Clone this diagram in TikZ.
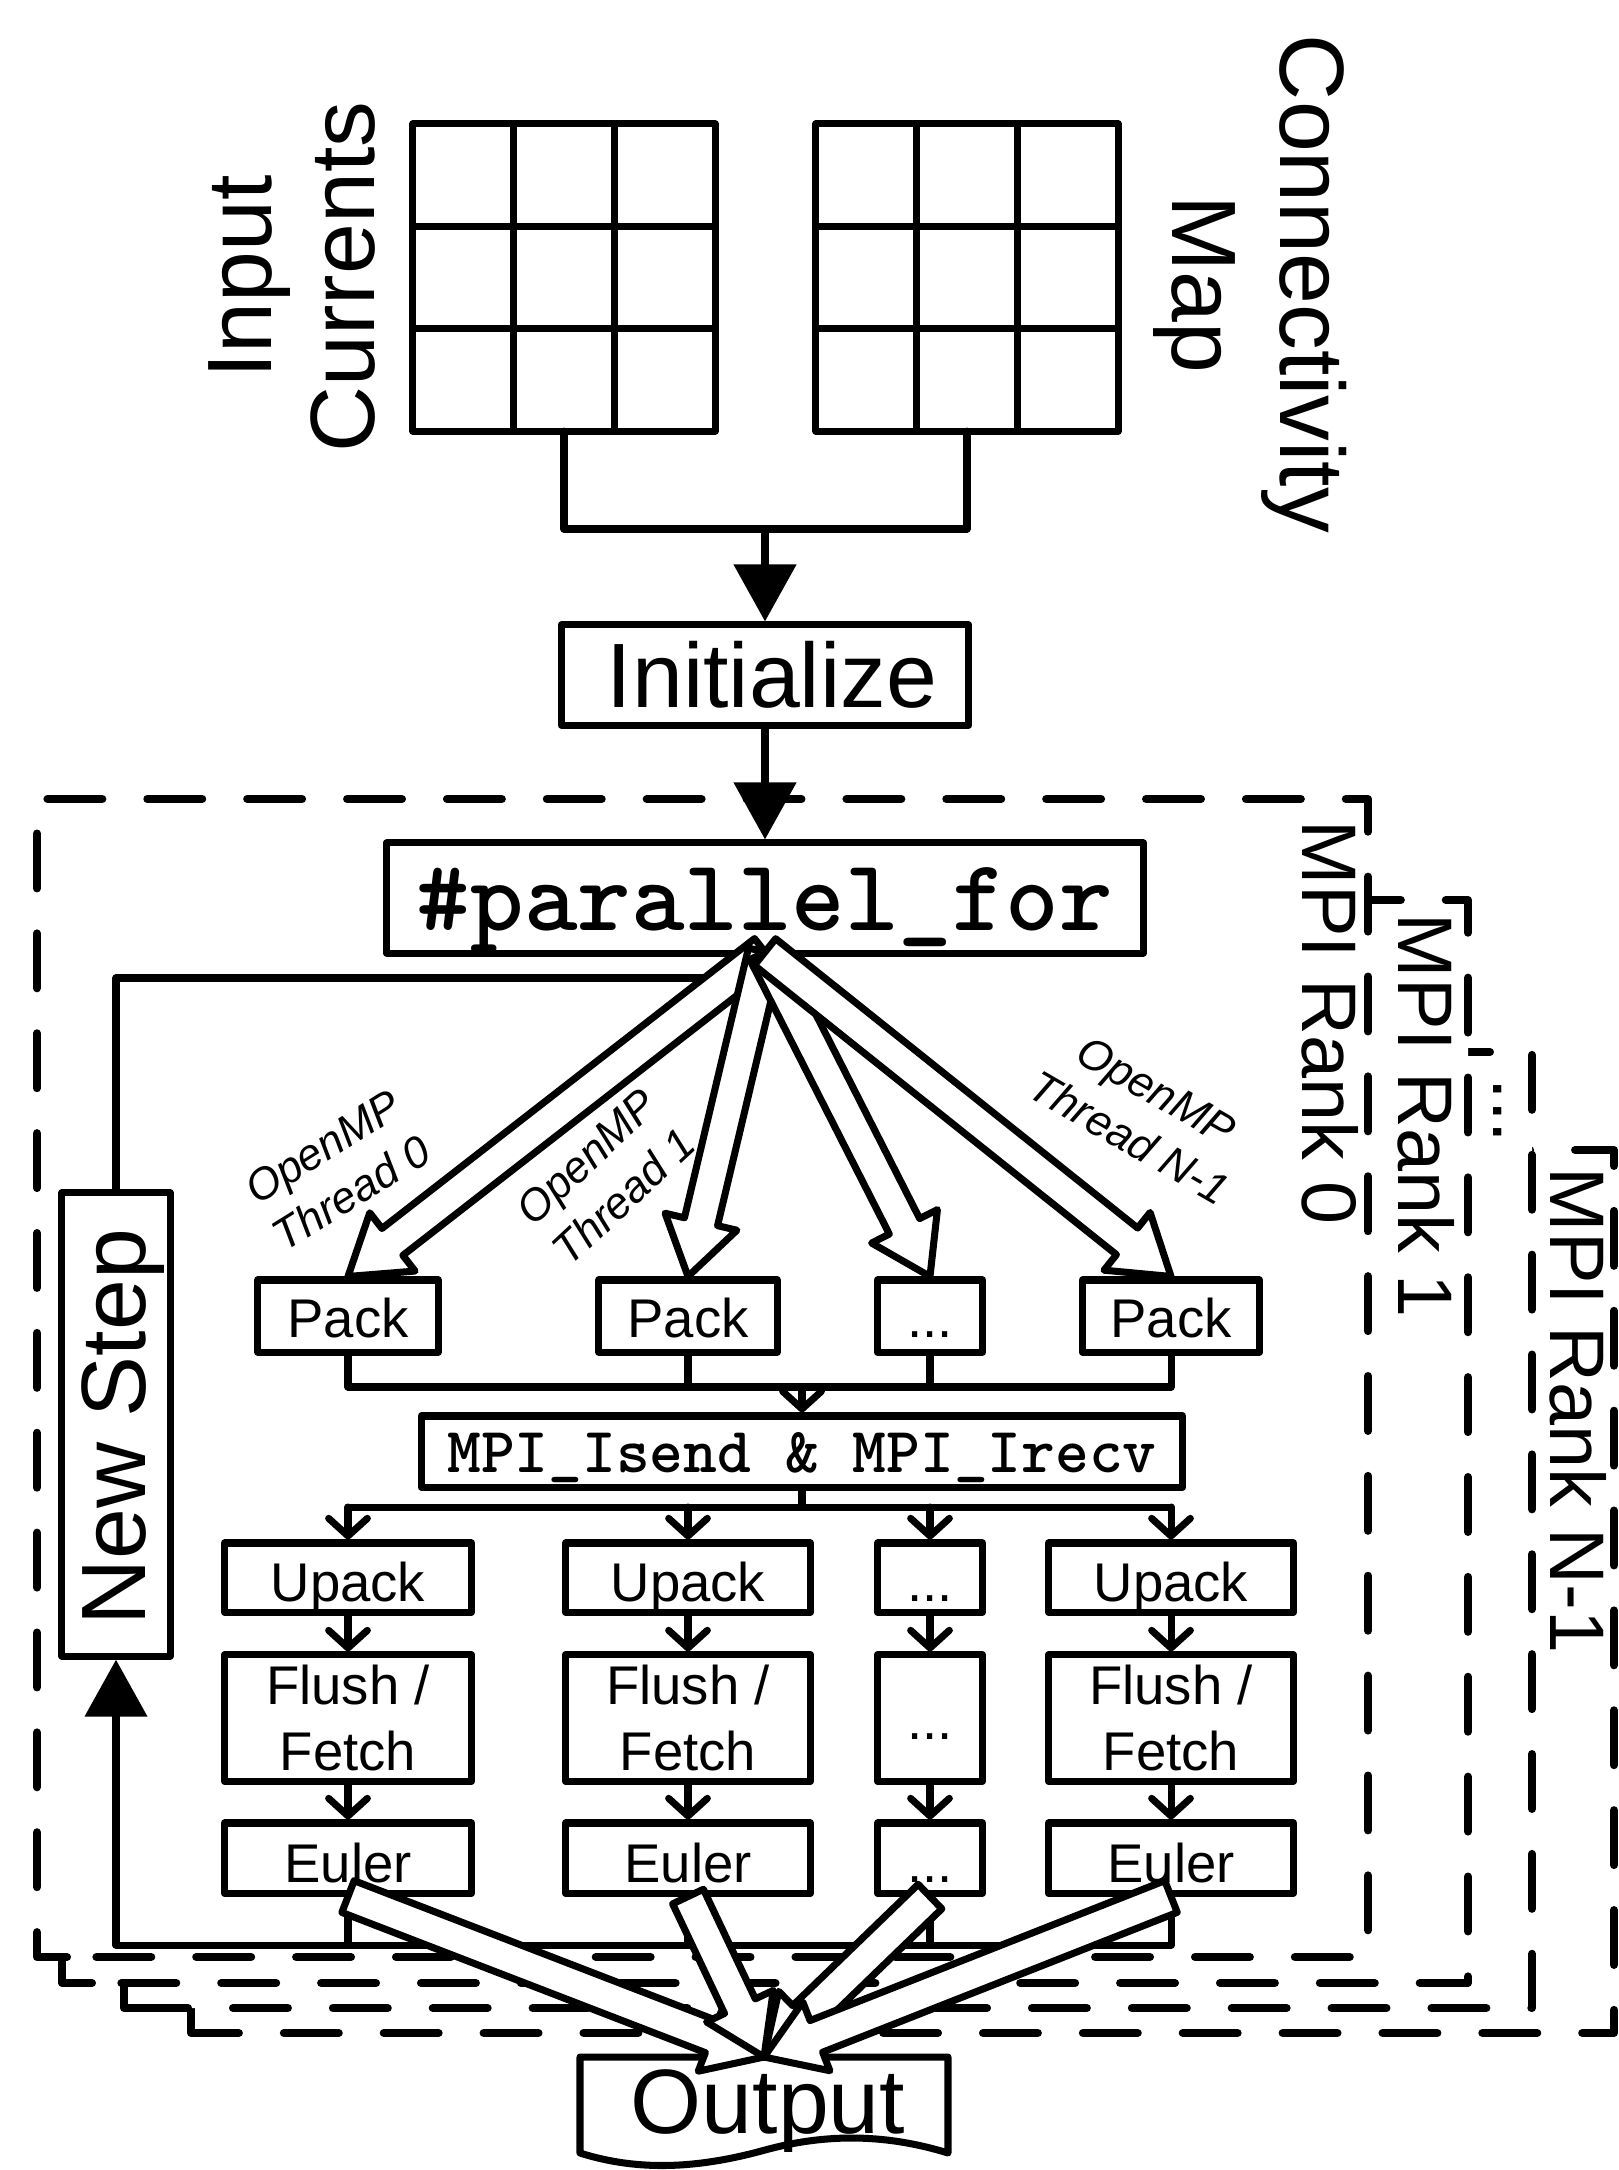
\documentclass[tikz,border=0pt]{standalone}
\usepackage{fontspec}
\setmainfont{Liberation Sans}
\usetikzlibrary{arrows.meta,calc}
\newcommand\smallfnt{\fontsize{15.5}{19}\selectfont}
\newcommand\bigfnt{\fontsize{26}{31}\selectfont}
\newcommand\blockarrow[2]{%
  \coordinate (ba-h) at ($(#2)!16pt!(#1)$);
  \draw[blockarr] ($(#1)!4.84pt!90:(#2)$) -- ($(ba-h)!4.84pt!90:(#2)$) -- ($(ba-h)!10.5pt!90:(#2)$) -- (#2) -- ($(ba-h)!10.5pt!-90:(#2)$) -- ($(ba-h)!4.84pt!-90:(#2)$) -- ($(#1)!4.84pt!-90:(#2)$) -- cycle;}
% dashed frame starting just right of its bottom-left corner
\newcommand\rankframe[4]{%
  \draw[rankbox] ({#1+30},#4) -- (#1,#4) -- (#1,#2) -- (#3,#2) -- (#3,#4) -- cycle;}
\begin{document}
\begin{tikzpicture}[x=0.01cm,y=-0.01cm,
  ln/.style={line width=2pt, line cap=round, line join=round},
  box/.style={draw, fill=white, line width=2pt, line join=round, inner sep=0pt, rectangle},
  gridbox/.style={draw, line width=2pt, line join=round, inner sep=0pt, outer sep=0pt, rectangle},
  rankbox/.style={draw, fill=white, line width=2.3pt, line cap=round, line join=round, dash pattern=on 15.6pt off 12.8pt},
  ranklbl/.style={font=\fontsize{22}{26}\selectfont, rotate=-90, anchor=base west, inner sep=0pt},
  bigtxt/.style={font=\bigfnt, inner sep=0pt},
  packrow/.style={box, minimum height=0.72cm, font=\smallfnt, text height=12pt, text depth=0pt},
  upackrow/.style={box, minimum height=0.69cm, font=\smallfnt, text height=13.9pt, text depth=0pt},
  flushrow/.style={box, minimum height=1.26cm, font=\smallfnt, align=center},
  eulerrow/.style={box, minimum height=0.70cm, font=\smallfnt, text height=14.2pt, text depth=0pt},
  filledarr/.style={-{Triangle[length=16.2pt,width=17.4pt]}},
  openarr/.style={-{Straight Barb[length=5pt,width=11pt,round]}},
  blockarr/.style={draw, fill=white, line width=2pt, line join=round},
  thrlbl/.style={font=\itshape\fontsize{12.5}{15.5}\selectfont, align=center, inner sep=0pt}
]
\useasboundingbox (0,0) rectangle (1619,2170);
\fill[white] (0,0) rectangle (1619,2170);

% MPI rank frames (back to front)
\rankframe{191}{1150}{1614}{2033}
\rankframe{124}{1052}{1532}{2008}
\rankframe{62}{900}{1468}{1983}
\rankframe{37}{799}{1368}{1957}
\node[ranklbl] (lbl0) at (1302,820) {MPI Rank 0};
\node[ranklbl] (lbl1) at (1398,913) {MPI Rank 1};
\node[ranklbl] (lbl2) at (1493,1078) {...};
\node[ranklbl] (lbl3) at (1550,1167) {MPI Rank N-1};

% input grids
\node[gridbox, minimum width=3.02cm, minimum height=3.07cm] (gridL) at (564,277.5) {};
\node[gridbox, minimum width=3.02cm, minimum height=3.07cm] (gridR) at (967,277.5) {};
\foreach \g in {gridL,gridR}{
  \foreach \i in {1,2}{
    \draw[ln] ($(\g.north west)!\i/3!(\g.north east)$) -- ($(\g.south west)!\i/3!(\g.south east)$);
    \draw[ln] ($(\g.north west)!\i/3!(\g.south west)$) -- ($(\g.north east)!\i/3!(\g.south east)$);
  }
}
\node[bigtxt, rotate=90, anchor=base] (tInput) at (271,277) {Input};
\node[bigtxt, rotate=90, anchor=base] (tCurr) at (374,277) {Currents};
\node[bigtxt, rotate=-90, anchor=base] (tConn) at (1280,284) {Connectivity};
\node[bigtxt, rotate=-90, anchor=base] (tMap) at (1172,284) {Map};

\coordinate (merge) at (765,529);
\draw[ln] (gridL.south) |- (merge) -| (gridR.south);
\node[box, minimum width=4.07cm, minimum height=1cm, font=\bigfnt] (init) at (765,675) {\hspace*{0.14cm}Initialize};
\draw[ln, filledarr] (merge) -- (init.north);

\node[box, minimum width=7.56cm, minimum height=1.10cm, font=\ttfamily\bfseries\fontsize{29}{34}\selectfont, text height=18.2pt, text depth=0pt] (pfor) at (765,898) {\#parallel\_for};
\draw[ln, filledarr] (init.south) -- (pfor.north);

% New Step box and loop line
\node[box, minimum width=1.08cm, minimum height=4.63cm] (newstep) at (116,1424.5) {};
\node[bigtxt, rotate=90, anchor=base] (tNew) at (145,1427) {New Step};
\coordinate (loopjoin) at (765,978);
\draw[ln] (newstep.north) |- (loopjoin);

% Pack row
\node[packrow, minimum width=1.80cm] (pack1) at (348,1316) {Pack};
\node[packrow, minimum width=1.78cm] (pack2) at (688,1316) {Pack};
\node[packrow, minimum width=1.05cm] (pack3) at (930,1316) {...};
\node[packrow, minimum width=1.77cm] (pack4) at (1171,1316) {Pack};

% OpenMP fan
\coordinate (fan) at (765,952);
\blockarrow{fan}{pack1.north}
\blockarrow{fan}{pack2.north}
\blockarrow{fan}{pack3.north}
\blockarrow{fan}{pack4.north}
\node[thrlbl, rotate=32] (th0) at (337,1170) {OpenMP\\Thread 0};
\node[thrlbl, rotate=43] (th1) at (605,1177) {OpenMP\\Thread 1};
\node[thrlbl, rotate=-30] (thN) at (1143,1114) {OpenMP\\Thread N-1};

% MPI exchange
\node[box, minimum width=7.61cm, minimum height=0.71cm, font=\ttfamily\bfseries\fontsize{18.3}{22}\selectfont, text height=12.2pt, text depth=0pt] (mpi) at (802,1451.5) {MPI\_Isend \& MPI\_Irecv};
\coordinate (j1) at (802,1387);
\draw[ln] (pack1.south) |- (j1) -| (pack4.south);
\draw[ln] (pack2.south) -- (pack2.south |- j1);
\draw[ln] (pack3.south) -- (pack3.south |- j1);
\draw[ln, openarr] (j1) -- (mpi.north);

% lower rows
\node[upackrow, minimum width=2.47cm] (upack1) at (348,1577.5) {Upack};
\node[upackrow, minimum width=2.45cm] (upack2) at (688,1577.5) {Upack};
\node[upackrow, minimum width=1.05cm] (upack3) at (930,1577.5) {...};
\node[upackrow, minimum width=2.45cm] (upack4) at (1171,1577.5) {Upack};

\node[flushrow, minimum width=2.47cm] (flush1) at (348,1718) {Flush /\\Fetch};
\node[flushrow, minimum width=2.45cm] (flush2) at (688,1718) {Flush /\\Fetch};
\node[flushrow, minimum width=1.05cm, text height=12pt, text depth=0pt] (flush3) at (930,1718) {...};
\node[flushrow, minimum width=2.45cm] (flush4) at (1171,1718) {Flush /\\Fetch};

\node[eulerrow, minimum width=2.47cm] (euler1) at (348,1858) {Euler};
\node[eulerrow, minimum width=2.45cm] (euler2) at (688,1858) {Euler};
\node[eulerrow, minimum width=1.05cm] (euler3) at (930,1858) {...};
\node[eulerrow, minimum width=2.45cm] (euler4) at (1171,1858) {Euler};

\coordinate (j2) at (802,1507);
\draw[ln] (mpi.south) -- (j2);
\draw[ln] (upack1.north |- j2) -- (upack4.north |- j2);
\foreach \i in {1,...,4}{
  \draw[ln, openarr] (upack\i.north |- j2) -- (upack\i.north);
  \draw[ln, openarr] (upack\i.south) -- (flush\i.north);
  \draw[ln, openarr] (flush\i.south) -- (euler\i.north);
}

% loop back to New Step
\coordinate (bus) at (116,1945);
\foreach \i in {1,2,3}{\draw[ln] (euler\i.south) -- (euler\i.south |- bus);}
\draw[ln, filledarr] (euler4.south) |- (bus) -- (newstep.south);

% Output document
\draw[ln, fill=white] (580,2057) -- (948,2057) -- (948,2153) .. controls (880,2132) and (820,2135) .. (765,2150) .. controls (700,2168) and (640,2172) .. (580,2153) -- cycle;
\coordinate (outtop) at (764,2057);
\node[bigtxt, anchor=base] (output) at (768,2133) {Output};

\foreach \i in {1,...,4}{\blockarrow{euler\i.south}{outtop}}
\end{tikzpicture}
\end{document}
